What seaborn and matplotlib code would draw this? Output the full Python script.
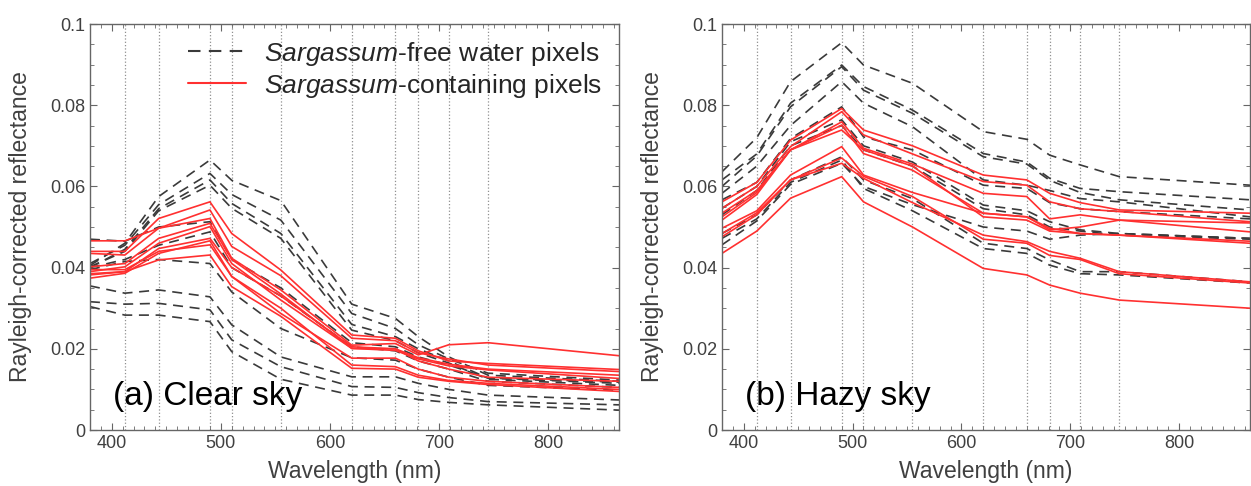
import numpy as np
import pandas as pd
import seaborn as sns
import matplotlib.pyplot as plt
from matplotlib.lines import Line2D
from matplotlib.ticker import MultipleLocator

sns.set_style('ticks')
plt.rcParams['font.family'] = ['Liberation Sans', 'DejaVu Sans']
plt.rcParams['mathtext.fontset'] = 'custom'
plt.rcParams['mathtext.rm'] = 'Liberation Sans'
plt.rcParams['mathtext.it'] = 'Liberation Sans:italic'

# band centres (nm)
wavelengths = [380, 412, 443, 490, 510, 555, 620, 660, 681, 709, 745, 865]
band_lines = [412, 443, 490, 510, 555, 620, 660, 681, 709, 745]

# (a) clear sky
clear_free = [
    [0.0405, 0.0460, 0.0575, 0.0665, 0.0615, 0.0565, 0.0310, 0.0275, 0.0230, 0.0180, 0.0135, 0.0120],
    [0.0410, 0.0455, 0.0555, 0.0632, 0.0580, 0.0517, 0.0287, 0.0250, 0.0210, 0.0175, 0.0140, 0.0123],
    [0.0400, 0.0445, 0.0545, 0.0616, 0.0558, 0.0484, 0.0260, 0.0230, 0.0200, 0.0170, 0.0128, 0.0115],
    [0.0402, 0.0440, 0.0540, 0.0603, 0.0546, 0.0472, 0.0246, 0.0220, 0.0190, 0.0165, 0.0125, 0.0110],
    [0.0470, 0.0465, 0.0500, 0.0513, 0.0420, 0.0350, 0.0215, 0.0205, 0.0180, 0.0160, 0.0128, 0.0118],
    [0.0400, 0.0420, 0.0455, 0.0488, 0.0400, 0.0330, 0.0205, 0.0195, 0.0170, 0.0150, 0.0120, 0.0105],
    [0.0395, 0.0415, 0.0420, 0.0410, 0.0340, 0.0250, 0.0178, 0.0172, 0.0150, 0.0130, 0.0110, 0.0098],
    [0.0355, 0.0337, 0.0345, 0.0328, 0.0259, 0.0180, 0.0131, 0.0131, 0.0115, 0.0100, 0.0086, 0.0074],
    [0.0316, 0.0310, 0.0312, 0.0296, 0.0222, 0.0156, 0.0107, 0.0105, 0.0092, 0.0080, 0.0070, 0.0062],
    [0.0304, 0.0283, 0.0283, 0.0267, 0.0193, 0.0125, 0.0086, 0.0086, 0.0075, 0.0068, 0.0062, 0.0049],
]
clear_sarg = [
    [0.0440, 0.0440, 0.0521, 0.0562, 0.0484, 0.0394, 0.0234, 0.0226, 0.0195, 0.0170, 0.0164, 0.0149],
    [0.0435, 0.0431, 0.0497, 0.0542, 0.0452, 0.0380, 0.0226, 0.0220, 0.0190, 0.0175, 0.0160, 0.0144],
    [0.0466, 0.0466, 0.0497, 0.0521, 0.0423, 0.0345, 0.0209, 0.0213, 0.0185, 0.0210, 0.0215, 0.0183],
    [0.0402, 0.0410, 0.0472, 0.0509, 0.0420, 0.0335, 0.0201, 0.0200, 0.0178, 0.0162, 0.0150, 0.0135],
    [0.0390, 0.0402, 0.0460, 0.0501, 0.0410, 0.0320, 0.0201, 0.0196, 0.0175, 0.0158, 0.0148, 0.0127],
    [0.0382, 0.0390, 0.0447, 0.0472, 0.0400, 0.0330, 0.0205, 0.0200, 0.0170, 0.0150, 0.0130, 0.0120],
    [0.0374, 0.0386, 0.0435, 0.0466, 0.0378, 0.0287, 0.0177, 0.0177, 0.0150, 0.0130, 0.0120, 0.0105],
    [0.0395, 0.0395, 0.0440, 0.0456, 0.0378, 0.0300, 0.0160, 0.0156, 0.0135, 0.0122, 0.0115, 0.0100],
    [0.0385, 0.0390, 0.0419, 0.0431, 0.0353, 0.0280, 0.0152, 0.0150, 0.0130, 0.0120, 0.0112, 0.0095],
]

# (b) hazy sky
hazy_free = [
    [0.0636, 0.0720, 0.0858, 0.0954, 0.0899, 0.0854, 0.0735, 0.0716, 0.0677, 0.0653, 0.0624, 0.0603],
    [0.0616, 0.0680, 0.0805, 0.0899, 0.0846, 0.0788, 0.0681, 0.0660, 0.0620, 0.0595, 0.0587, 0.0567],
    [0.0600, 0.0675, 0.0796, 0.0895, 0.0837, 0.0780, 0.0673, 0.0655, 0.0615, 0.0585, 0.0567, 0.0542],
    [0.0583, 0.0650, 0.0750, 0.0858, 0.0805, 0.0747, 0.0616, 0.0603, 0.0590, 0.0570, 0.0562, 0.0525],
    [0.0567, 0.0610, 0.0718, 0.0796, 0.0722, 0.0690, 0.0603, 0.0595, 0.0560, 0.0545, 0.0538, 0.0520],
    [0.0546, 0.0600, 0.0710, 0.0764, 0.0700, 0.0660, 0.0554, 0.0540, 0.0513, 0.0493, 0.0484, 0.0472],
    [0.0530, 0.0590, 0.0700, 0.0750, 0.0690, 0.0650, 0.0545, 0.0530, 0.0500, 0.0490, 0.0480, 0.0470],
    [0.0484, 0.0530, 0.0616, 0.0673, 0.0616, 0.0570, 0.0460, 0.0447, 0.0419, 0.0390, 0.0390, 0.0365],
    [0.0472, 0.0520, 0.0610, 0.0665, 0.0595, 0.0540, 0.0447, 0.0435, 0.0406, 0.0385, 0.0382, 0.0362],
    [0.0456, 0.0515, 0.0605, 0.0657, 0.0600, 0.0555, 0.0500, 0.0490, 0.0470, 0.0480, 0.0484, 0.0472],
]
hazy_sarg = [
    [0.0562, 0.0610, 0.0714, 0.0792, 0.0739, 0.0700, 0.0628, 0.0616, 0.0583, 0.0560, 0.0542, 0.0534],
    [0.0546, 0.0600, 0.0698, 0.0784, 0.0727, 0.0680, 0.0612, 0.0603, 0.0562, 0.0545, 0.0538, 0.0513],
    [0.0534, 0.0590, 0.0690, 0.0759, 0.0694, 0.0655, 0.0583, 0.0575, 0.0520, 0.0530, 0.0517, 0.0510],
    [0.0525, 0.0585, 0.0690, 0.0751, 0.0681, 0.0640, 0.0534, 0.0525, 0.0493, 0.0500, 0.0517, 0.0488],
    [0.0517, 0.0580, 0.0690, 0.0739, 0.0690, 0.0650, 0.0525, 0.0517, 0.0490, 0.0484, 0.0480, 0.0460],
    [0.0497, 0.0540, 0.0628, 0.0698, 0.0628, 0.0585, 0.0534, 0.0525, 0.0497, 0.0484, 0.0480, 0.0465],
    [0.0484, 0.0535, 0.0616, 0.0657, 0.0620, 0.0560, 0.0480, 0.0464, 0.0440, 0.0423, 0.0390, 0.0365],
    [0.0476, 0.0530, 0.0616, 0.0670, 0.0625, 0.0575, 0.0470, 0.0460, 0.0430, 0.0420, 0.0385, 0.0362],
    [0.0435, 0.0490, 0.0571, 0.0624, 0.0562, 0.0500, 0.0398, 0.0382, 0.0357, 0.0337, 0.0320, 0.0300],
]

label_free = r'$\mathit{Sargassum}$-free water pixels'
label_sarg = r'$\mathit{Sargassum}$-containing pixels'


def to_long(free, sarg):
    rows = []
    for kind, group in [('free', free), ('sarg', sarg)]:
        for i, spec in enumerate(group):
            for wl, r in zip(wavelengths, spec):
                rows.append({'wl': wl, 'refl': r, 'kind': kind, 'pixel': f'{kind}{i}'})
    return pd.DataFrame(rows)


fig = plt.figure(figsize=(12.51, 4.86), dpi=100)
ax_a = fig.add_axes([0.0719, 0.1152, 0.4229, 0.8354])
ax_b = fig.add_axes([0.5771, 0.1152, 0.4221, 0.8354])

gray = '#404040'
palette = {'free': '#3a3a3a', 'sarg': '#ff3030'}
dashes = {'free': (6, 4), 'sarg': ''}

for ax, free, sarg, title in [(ax_a, clear_free, clear_sarg, '(a) Clear sky'),
                              (ax_b, hazy_free, hazy_sarg, '(b) Hazy sky')]:
    for b in band_lines:
        ax.axvline(b, color='#909090', linestyle=':', linewidth=0.9, zorder=0)
    df = to_long(free, sarg)
    sns.lineplot(data=df, x='wl', y='refl', hue='kind', style='kind', units='pixel',
                 estimator=None, palette=palette, dashes=dashes, linewidth=1.2,
                 sort=False, legend=False, ax=ax)
    ax.set_xlim(380, 865)
    ax.set_ylim(0, 0.1)
    ax.set_xticks([400, 500, 600, 700, 800])
    ax.set_yticks([0, 0.02, 0.04, 0.06, 0.08, 0.1])
    ax.set_yticklabels(['0', '0.02', '0.04', '0.06', '0.08', '0.1'])
    ax.xaxis.set_minor_locator(MultipleLocator(10))
    ax.yaxis.set_minor_locator(MultipleLocator(0.005))
    ax.tick_params(which='both', direction='in', top=True, right=True, colors='#666666',
                   labelcolor=gray, labelsize=13)
    ax.tick_params(which='major', length=5, width=0.8)
    ax.tick_params(which='minor', length=3, width=0.6)
    for s in ax.spines.values():
        s.set_color('#666666')
        s.set_linewidth(1.0)
    ax.set_xlabel('Wavelength (nm)', fontsize=16.5, color=gray)
    ax.set_ylabel('Rayleigh-corrected reflectance', fontsize=16.5, color=gray)
    ax.xaxis.set_label_coords(0.5, -0.075)
    ax.yaxis.set_label_coords(-0.11, 0.5)
    ax.text(0.043, 0.045, title, transform=ax.transAxes, fontsize=24, color='black',
            ha='left', va='bottom')

handles = [Line2D([], [], color=palette['free'], dashes=dashes['free'], linewidth=1.5),
           Line2D([], [], color=palette['sarg'], linewidth=1.5)]
ax_a.legend(handles, [label_free, label_sarg], loc='upper right', bbox_to_anchor=(1.014, 1.02),
            fontsize=19, frameon=False, handlelength=2.2, handletextpad=0.7, labelspacing=0.15)

fig.savefig('out.png', dpi=100)
